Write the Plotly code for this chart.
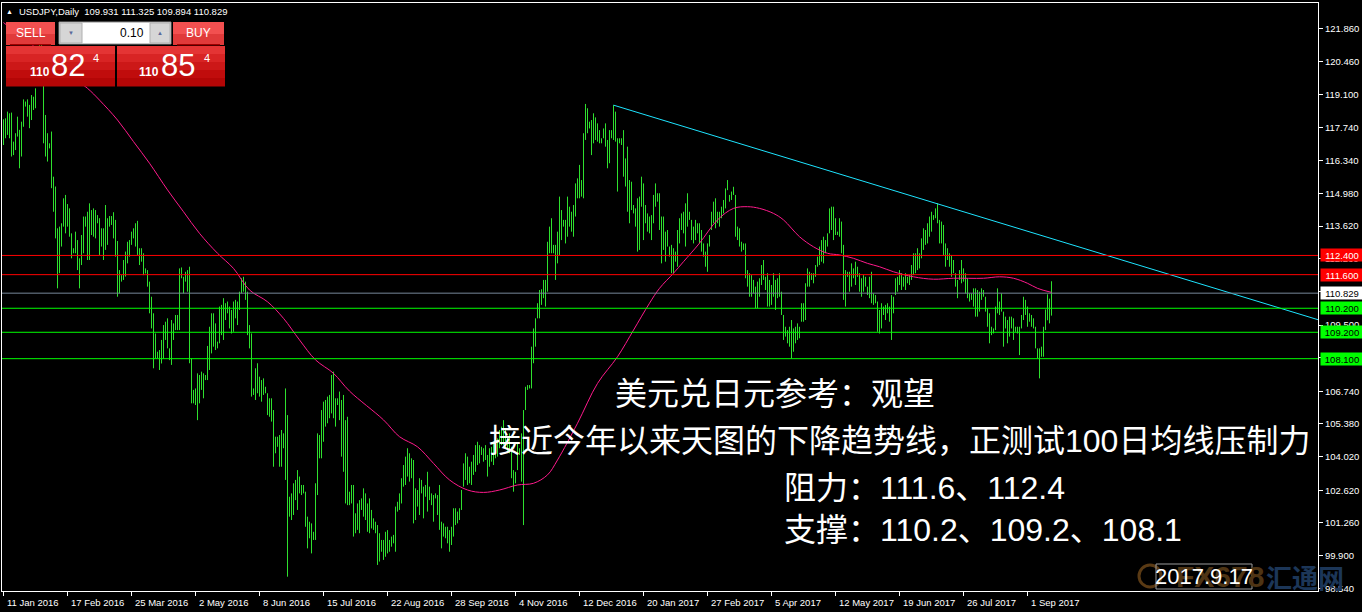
import plotly.graph_objects as go

# ---------------- DATA ----------------
HIGH = [
    118.07, 118.11, 118.39, 118.32, 118.35, 117.14, 117.49, 118.18, 117.63, 117.97,
    118.90, 118.81, 118.90, 118.67, 119.08, 119.01, 119.36, 120.90, 121.69, 121.20,
    119.90, 118.25, 117.49, 117.07, 117.56, 115.68, 115.27, 113.53, 113.60, 113.74,
    114.78, 114.92, 114.54, 114.36, 113.32, 112.70, 113.39, 113.04, 112.28, 113.25,
    114.02, 114.02, 114.22, 114.57, 114.29, 114.36, 114.29, 114.08, 113.95, 113.53,
    113.53, 114.50, 113.95, 114.04, 114.04, 114.20, 113.88, 113.00, 111.79, 111.58,
    112.21, 112.56, 112.97, 113.04, 113.39, 113.53, 113.74, 113.84, 112.70, 112.70,
    112.49, 111.86, 111.79, 111.31, 110.68, 109.99, 109.15, 108.39, 108.46, 108.88,
    109.50, 109.64, 109.78, 108.53, 109.71, 109.57, 109.92, 109.92, 111.86, 111.90,
    111.51, 111.72, 111.79, 111.93, 108.11, 106.80, 106.86, 107.49, 107.42, 107.56,
    107.49, 107.42, 108.63, 109.43, 109.99, 109.99, 109.57, 108.81, 110.27, 110.34,
    110.62, 110.41, 110.48, 110.27, 110.13, 110.48, 110.55, 110.48, 110.89, 111.45,
    111.51, 111.31, 110.89, 109.50, 109.15, 106.86, 107.70, 107.91, 107.35, 107.21,
    107.28, 106.93, 106.66, 106.45, 106.45, 105.96, 104.85, 104.85, 104.92, 105.13,
    104.99, 106.86, 105.75, 102.35, 102.49, 102.91, 103.05, 103.46, 103.19, 102.84,
    102.84, 102.56, 101.52, 101.31, 101.24, 100.89, 102.91, 104.99, 104.92, 105.96,
    106.31, 106.38, 106.52, 106.59, 107.42, 107.56, 106.45, 106.45, 106.73, 106.38,
    106.59, 105.54, 105.68, 102.56, 102.84, 102.84, 101.66, 102.07, 102.21, 102.28,
    102.70, 102.49, 102.07, 102.28, 101.80, 101.45, 101.31, 101.17, 100.83, 100.55,
    100.55, 100.89, 100.96, 100.55, 100.69, 100.76, 101.94, 102.14, 102.49, 103.12,
    103.67, 104.02, 104.37, 104.16, 103.95, 103.88, 102.70, 102.63, 103.12, 103.05,
    102.77, 102.84, 103.39, 102.77, 102.49, 102.42, 102.49, 102.42, 102.84, 101.31,
    101.24, 101.10, 101.10, 100.96, 101.10, 101.87, 101.87, 101.73, 101.87, 102.63,
    103.74, 104.16, 104.02, 103.60, 103.81, 104.09, 104.50, 104.64, 104.50, 104.43,
    104.37, 104.50, 104.09, 104.37, 104.43, 104.64, 104.57, 104.78, 105.13, 105.27,
    105.54, 105.13, 104.85, 104.99, 104.43, 103.46, 103.39, 104.57, 104.37, 104.99,
    105.96, 106.93, 107.00, 107.00, 108.60, 109.36, 109.78, 110.41, 110.96, 110.99,
    111.38, 111.38, 112.97, 113.60, 113.95, 112.84, 112.84, 113.39, 114.85, 114.29,
    113.88, 113.88, 114.85, 114.43, 114.22, 114.50, 115.40, 115.61, 116.17, 115.54,
    117.49, 118.71, 118.53, 117.97, 118.04, 118.32, 118.15, 117.90, 117.62, 117.28,
    117.69, 117.90, 117.21, 117.62, 117.62, 118.66, 118.39, 117.28, 117.28, 117.28,
    117.62, 116.44, 116.93, 115.54, 115.47, 114.50, 114.36, 114.78, 114.85, 115.68,
    115.40, 114.50, 114.15, 114.02, 114.08, 114.92, 115.40, 114.99, 114.99, 114.02,
    114.02, 113.39, 113.46, 112.77, 112.84, 112.70, 112.56, 113.46, 113.95, 114.15,
    114.22, 114.57, 114.99, 114.22, 113.88, 113.60, 113.88, 113.74, 113.74,
    113.46, 112.90, 112.56, 112.90, 113.25, 114.22, 114.64, 114.78, 114.22, 114.22,
    114.43, 114.71, 115.19, 115.54, 114.92, 115.06, 115.26, 114.92, 113.60, 113.53,
    112.97, 112.90, 112.90, 111.79, 111.66, 111.58, 111.38, 111.10, 111.31, 111.45,
    112.00, 112.21, 111.51, 111.66, 111.38, 111.17, 111.66, 111.38, 111.45, 111.66,
    110.89, 109.92, 109.43, 109.29, 109.43, 109.71, 109.36, 109.43, 109.57, 109.43,
    110.41, 110.41, 111.24, 111.86, 111.72, 111.66, 111.66, 112.00, 112.35, 112.77,
    113.04, 113.18, 113.04, 113.32, 114.36, 114.43, 114.43, 113.95, 113.39, 113.95,
    113.81, 112.84, 111.79, 111.72, 111.72, 112.07, 111.86, 112.14, 111.93, 111.66,
    111.45, 111.58, 111.51, 111.10, 111.51, 111.72, 110.82, 110.75, 110.48, 110.13,
    110.41, 110.27, 110.34, 110.41, 110.27, 110.75, 110.68, 111.45, 111.51, 111.79,
    111.66, 111.51, 111.66, 111.51, 111.58, 112.00, 112.49, 112.49, 112.70, 112.49,
    113.11, 113.53, 113.46, 113.74, 114.02, 114.22, 114.08, 114.36, 114.57, 113.88,
    113.81, 113.67, 112.90, 112.70, 112.49, 112.42, 112.21, 111.66, 111.38, 111.79,
    112.21, 111.86, 111.66, 111.45, 110.82, 110.82, 111.03, 111.03, 110.96, 110.89,
    111.03, 110.96, 110.68, 110.20, 109.99, 109.43, 109.36, 110.27, 111.03, 110.48,
    110.82, 110.06, 109.85, 109.71, 109.85, 109.85, 109.78, 109.43, 109.43, 109.43,
    109.92, 110.68, 110.55, 110.27, 109.99, 109.92, 109.78, 109.43, 108.53, 108.53,
    108.60, 109.43, 110.15, 110.78, 110.60, 111.325,
]
LOW = [
    117.00, 117.28, 117.42, 117.28, 116.52, 116.58, 116.79, 117.35, 116.03, 116.52,
    117.76, 118.60, 118.18, 117.70, 118.04, 118.46, 118.53, 119.60, 120.20, 119.70,
    117.07, 116.52, 116.31, 116.86, 115.20, 114.22, 113.11, 111.03, 111.66, 112.77,
    113.60, 113.32, 113.60, 113.18, 112.28, 112.49, 112.49, 111.79, 111.03, 112.00,
    112.49, 113.60, 112.21, 112.21, 113.25, 113.18, 113.11, 113.74, 112.42, 112.77,
    112.21, 112.63, 112.84, 113.60, 113.67, 113.11, 112.35, 110.68, 110.82, 111.31,
    111.38, 111.52, 112.07, 112.35, 112.84, 113.11, 112.77, 112.42, 112.00, 112.14,
    111.58, 111.65, 111.10, 109.99, 109.36, 107.70, 108.11, 108.11, 107.63, 107.90,
    108.11, 108.88, 108.53, 108.04, 107.84, 108.88, 109.29, 109.29, 109.29, 111.45,
    110.82, 111.31, 110.89, 107.91, 106.24, 106.24, 106.17, 105.54, 106.24, 106.80,
    106.45, 107.21, 107.21, 107.63, 108.32, 108.60, 108.46, 108.53, 108.74, 109.08,
    108.88, 109.71, 109.99, 109.36, 109.15, 109.22, 109.78, 109.50, 110.13, 110.82,
    110.89, 110.55, 109.08, 108.53, 106.52, 106.59, 106.38, 106.66, 106.52, 106.31,
    106.59, 106.66, 105.75, 105.68, 105.48, 103.60, 104.16, 104.43, 103.60, 103.60,
    104.37, 103.05, 99.02, 101.52, 101.38, 101.59, 102.21, 101.80, 102.49, 102.42,
    102.49, 101.10, 100.20, 100.62, 99.99, 100.55, 100.55, 102.42, 103.95, 103.95,
    104.64, 105.27, 105.41, 105.62, 105.82, 105.62, 105.27, 106.17, 105.54, 104.02,
    103.39, 102.07, 102.00, 102.00, 102.07, 100.69, 100.83, 100.97, 100.83, 101.80,
    101.52, 101.38, 100.89, 100.83, 101.03, 100.97, 100.83, 99.51, 99.65, 100.06,
    99.72, 99.85, 99.99, 100.06, 100.27, 100.41, 100.06, 101.73, 101.80, 102.07,
    102.77, 102.84, 103.19, 102.98, 103.12, 101.24, 101.38, 101.94, 101.59, 102.49,
    101.45, 102.35, 101.73, 102.21, 102.00, 101.31, 102.28, 101.59, 100.97, 100.20,
    100.69, 100.62, 100.41, 100.06, 100.34, 100.69, 101.17, 101.24, 101.38, 101.80,
    102.77, 103.05, 102.84, 102.91, 102.84, 103.26, 103.39, 103.67, 103.74, 104.09,
    103.81, 103.88, 103.19, 103.60, 103.81, 103.67, 103.95, 104.02, 104.37, 104.50,
    104.50, 104.37, 104.23, 104.16, 103.12, 102.56, 102.91, 103.46, 104.09, 102.98,
    101.17, 105.96, 106.80, 106.86, 106.86, 107.91, 108.60, 109.78, 109.78, 110.34,
    110.62, 110.27, 110.89, 112.49, 112.49, 112.49, 111.38, 112.07, 112.42, 113.04,
    113.60, 112.90, 113.18, 113.60, 113.39, 113.18, 114.02, 114.78, 114.78, 114.85,
    114.78, 117.21, 117.49, 117.69, 116.58, 117.07, 117.21, 117.14, 117.07, 117.07,
    117.28, 116.93, 116.03, 116.24, 117.28, 117.21, 117.14, 115.06, 117.07, 117.00,
    115.68, 115.27, 114.22, 113.74, 114.29, 114.15, 113.60, 112.56, 112.63, 114.43,
    113.04, 113.74, 113.39, 113.32, 113.04, 113.74, 114.43, 114.64, 113.46, 112.07,
    112.63, 112.14, 112.77, 112.35, 111.66, 111.66, 112.14, 111.93, 112.90, 113.46,
    113.32, 112.77, 113.60, 113.88, 113.04, 112.90, 113.04, 113.32, 112.90,
    112.56, 112.35, 111.93, 111.72, 112.77, 113.46, 113.74, 113.53, 113.74, 113.60,
    113.95, 114.15, 114.36, 115.12, 114.64, 114.71, 114.92, 113.18, 113.04, 112.77,
    112.56, 112.63, 111.45, 111.10, 110.68, 110.68, 110.82, 110.20, 110.20, 110.68,
    111.17, 111.38, 110.96, 110.27, 110.27, 110.34, 110.68, 110.13, 110.62, 110.68,
    109.92, 108.88, 109.02, 108.74, 108.60, 108.11, 108.39, 108.74, 108.88, 108.95,
    109.64, 109.64, 109.71, 111.10, 111.10, 111.38, 111.24, 111.51, 111.93, 112.00,
    112.14, 112.07, 112.49, 112.77, 113.32, 113.46, 113.04, 113.25, 113.25, 113.18,
    112.49, 110.55, 110.27, 111.51, 110.89, 111.10, 111.45, 111.17, 111.51, 110.89,
    110.68, 110.89, 111.10, 110.75, 110.62, 110.41, 110.34, 110.41, 109.22, 109.15,
    109.36, 109.92, 109.71, 109.99, 109.64, 108.88, 109.99, 110.75, 110.89, 111.17,
    110.96, 111.10, 110.96, 111.24, 111.17, 111.38, 111.58, 111.66, 111.79, 111.86,
    112.28, 112.63, 112.84, 112.90, 113.18, 113.39, 113.88, 113.95, 113.74, 112.90,
    112.90, 112.42, 111.93, 112.21, 111.93, 111.51, 111.66, 111.10, 110.62, 111.38,
    111.24, 111.31, 110.82, 110.62, 110.48, 110.55, 110.27, 109.85, 109.85, 110.06,
    110.55, 110.68, 110.06, 109.43, 108.74, 109.08, 109.15, 109.29, 109.99, 109.92,
    110.06, 108.60, 109.36, 108.74, 109.02, 109.36, 108.88, 109.22, 109.15, 108.25,
    109.36, 109.71, 109.92, 109.43, 109.64, 109.43, 109.36, 108.53, 108.11, 107.28,
    108.18, 108.18, 109.29, 109.70, 109.57, 109.894,
]

# 100-day moving average (bar index, price)
MA_IDX = [0, 10, 20, 30, 42, 48, 57, 65, 73, 82, 90, 98, 107, 115, 123, 132, 140, 148,
          156, 165, 173, 190, 198, 207, 215, 223, 232, 240, 248, 257, 265, 272, 277, 287,
          297, 307, 315, 323, 328, 335, 340, 348, 357, 365, 372, 378, 385, 390, 398, 405,
          412, 418, 425, 432, 438, 445, 455, 465, 475, 490, 498, 505, 512, 517, 524]
MA_VAL = [122.10, 121.45, 120.80, 120.10, 119.36, 118.87, 118.04, 117.14, 116.24, 115.13,
          114.22, 113.32, 112.49, 111.86, 110.96, 110.47, 109.78, 108.88, 108.05, 107.49,
          106.75, 105.55, 104.85, 104.43, 103.74, 103.05, 102.63, 102.53, 102.63, 102.84,
          102.91, 103.26, 103.88, 105.41, 107.07, 108.18, 109.29, 110.41, 111.03, 111.66,
          112.14, 112.91, 113.88, 114.36, 114.43, 114.36, 114.15, 113.88, 113.18, 112.76,
          112.49, 112.42, 112.28, 112.07, 111.93, 111.72, 111.51, 111.41, 111.45, 111.45,
          111.51, 111.45, 111.24, 111.03, 110.86]

# Trend line anchor points (bar index, price)
TREND_IDX = [305, 467]
TREND_VAL = [118.66, 114.55]

# Horizontal levels
LEVELS = [112.4, 111.6, 110.829, 110.2, 109.2, 108.1]
LEVEL_TEXT = ["112.400", "111.600", "110.829", "110.200", "109.200", "108.100"]

PRICE_TICKS = [121.86, 120.46, 119.10, 117.74, 116.34, 114.98, 113.62, 112.26, 110.90,
               109.50, 108.14, 106.74, 105.38, 104.02, 102.62, 101.26, 99.90, 98.54]

DATE_IDX = [0, 32, 64, 96, 128, 160, 192, 224, 256, 288, 320, 352, 384, 416, 448, 480, 512]
DATE_LABELS = ["11 Jan 2016", "17 Feb 2016", "25 Mar 2016", "2 May 2016", "8 Jun 2016",
               "15 Jul 2016", "22 Aug 2016", "28 Sep 2016", "4 Nov 2016", "12 Dec 2016",
               "20 Jan 2017", "27 Feb 2017", "5 Apr 2017", "12 May 2017", "19 Jun 2017",
               "26 Jul 2017", "1 Sep 2017"]

HEADER = "USDJPY,Daily  109.931 111.325 109.894 110.829"
LOTS = "0.10"
BID = ("110", "82", "4")
ASK = ("110", "85", "4")

TEXT_LINES = ["美元兑日元参考：观望",
              "接近今年以来天图的下降趋势线，正测试100日均线压制力",
              "阻力：111.6、112.4",
              "支撑：110.2、109.2、108.1"]
DATE_STAMP = "2017.9.17"

# ---------------- STYLE / LAYOUT ----------------
W, H = 1362, 612
PL, PR, PT, PB = 2, 1318, 3, 591
X_RANGE = [-0.75, 657.25]
Y_RANGE = [98.424, 122.914]

BAR_COLOR = "#2ee02e"
MA_COLOR = "#ff1a8c"
TREND_COLOR = "#1ee4ff"
LEVEL_LINE_COLORS = ["#ff0000", "#ff0000", "#778899", "#00ff00", "#00ff00", "#00ff00"]
LEVEL_BG = ["#ff0000", "#ff0000", "#ffffff", "#00ff00", "#00ff00", "#00ff00"]
LEVEL_FG = ["#ffffff", "#ffffff", "#000000", "#000000", "#000000", "#000000"]
SMALL_FONT = "Liberation Sans, Arial, sans-serif"
CJK_FONT = "Liberation Sans, Noto Sans CJK SC, sans-serif"


def px(x):
    return (x - PL) / (PR - PL)


def py(y):
    return (PB - y) / (PB - PT)


fig = go.Figure()

# OHLC bars as high-low lines
bx, by = [], []
for i, (h, l) in enumerate(zip(HIGH, LOW)):
    bx += [i, i, None]
    by += [l, h, None]
fig.add_trace(go.Scatter(x=bx, y=by, mode="lines", line=dict(color=BAR_COLOR, width=1),
                         hoverinfo="skip", showlegend=False))

# moving average
fig.add_trace(go.Scatter(x=MA_IDX, y=MA_VAL, mode="lines", line=dict(color=MA_COLOR, width=1),
                         hoverinfo="skip", showlegend=False, line_shape="spline"))

# trend line (ray extended to the right edge)
slope = (TREND_VAL[1] - TREND_VAL[0]) / (TREND_IDX[1] - TREND_IDX[0])
x_end = X_RANGE[1]
y_end = TREND_VAL[0] + slope * (x_end - TREND_IDX[0])
fig.add_trace(go.Scatter(x=[TREND_IDX[0], x_end], y=[TREND_VAL[0], y_end], mode="lines",
                         line=dict(color=TREND_COLOR, width=1), hoverinfo="skip",
                         showlegend=False))

shapes = []
annotations = []

# horizontal levels
for lv, col in zip(LEVELS, LEVEL_LINE_COLORS):
    shapes.append(dict(type="line", xref="paper", yref="y", x0=0, x1=1, y0=lv, y1=lv,
                       line=dict(color=col, width=1), layer="above"))

# watermark (drawn first so other text lies above)
shapes.append(dict(type="circle", xref="paper", yref="paper", x0=px(1139), x1=px(1161),
                   y0=py(587), y1=py(565), line=dict(color="#5a3a14", width=3),
                   fillcolor="rgba(0,0,0,0)", layer="above"))
annotations.append(dict(text="<b>FX678</b>", xref="paper", yref="paper", x=px(1220), y=py(576),
                        showarrow=False, font=dict(family=SMALL_FONT, size=30, color="#4e3414"),
                        xanchor="center", yanchor="middle"))
annotations.append(dict(text="<b>汇通网</b>", xref="paper", yref="paper", x=px(1305), y=py(576),
                        showarrow=False, font=dict(family="Noto Sans CJK SC", size=26, color="#1c3658"),
                        xanchor="center", yanchor="middle"))

# level labels on the price axis
for lv, txt, bg, fg in zip(LEVELS, LEVEL_TEXT, LEVEL_BG, LEVEL_FG):
    annotations.append(dict(text=txt, xref="paper", yref="y", x=px(1320), y=lv,
                            xanchor="left", yanchor="middle", showarrow=False,
                            bgcolor=bg, width=40, height=10, borderpad=1,
                            font=dict(family=SMALL_FONT, size=9.5, color=fg)))

# date labels
for idx, lab in zip(DATE_IDX, DATE_LABELS):
    annotations.append(dict(text=lab, xref="x", yref="paper", x=idx + 0.5, y=py(595),
                            xanchor="left", yanchor="top", showarrow=False,
                            font=dict(family=SMALL_FONT, size=9.5, color="#ffffff")))

# header
annotations.append(dict(text="▲", xref="paper", yref="paper", x=px(9.5), y=py(11),
                        xanchor="center", yanchor="middle", showarrow=False,
                        font=dict(family=SMALL_FONT, size=7, color="#ffffff")))
annotations.append(dict(text=HEADER, xref="paper", yref="paper", x=px(17), y=py(11),
                        xanchor="left", yanchor="middle", showarrow=False,
                        font=dict(family=SMALL_FONT, size=9.5, color="#ffffff")))


# trading panel
def rect(x0, y0, x1, y1, fill, line=None):
    shapes.append(dict(type="rect", xref="paper", yref="paper", x0=px(x0), x1=px(x1),
                       y0=py(y1), y1=py(y0), fillcolor=fill,
                       line=dict(color=line or fill, width=1 if line else 0), layer="above"))


for (x0, x1) in [(6, 55), (173, 224)]:
    rect(x0, 22, x1, 34, "#f25050")
    rect(x0, 34, x1, 45, "#e03a3a")
    rect(x0 + 4, 44, x1 - 4, 45.5, "#a00000")
for (x0, x1) in [(6, 115), (117, 225)]:
    bands = ["#e43434", "#d82424", "#cc1818", "#c00c0c", "#b40606"]
    hgt = 40 / len(bands)
    for k, c in enumerate(bands):
        rect(x0, 46 + k * hgt, x1, 46 + (k + 1) * hgt + 0.5, c)
rect(59, 22, 171, 44, "#ffffff", "#8c8c8c")
rect(60, 23, 82, 43, "#d6d6d6", "#b0b0b0")
rect(150, 23, 170, 43, "#d6d6d6", "#b0b0b0")

panel_txt = [
    ("SELL", 30.5, 33.5, 12, "#ffffff", "center", False),
    ("BUY", 198.5, 33.5, 12, "#ffffff", "center", False),
    (LOTS, 146, 33, 12, "#000000", "right", False),
    ("▼", 71, 33, 6, "#5a6a9a", "center", False),
    ("▲", 160, 33, 6, "#5a6a9a", "center", False),
    (BID[0], 39.5, 71.5, 12, "#ffffff", "center", True),
    (BID[1], 67.5, 65.5, 31, "#ffffff", "center", False),
    (BID[2], 96, 57.5, 11, "#ffffff", "center", False),
    (ASK[0], 148.5, 71.5, 12, "#ffffff", "center", True),
    (ASK[1], 178, 65.5, 31, "#ffffff", "center", False),
    (ASK[2], 206.5, 57.5, 11, "#ffffff", "center", False),
]
for t, x, y, s, c, anc, bold in panel_txt:
    annotations.append(dict(text=f"<b>{t}</b>" if bold else t, xref="paper", yref="paper",
                            x=px(x), y=py(y), xanchor=anc, yanchor="middle", showarrow=False,
                            font=dict(family=SMALL_FONT, size=s, color=c)))

# Chinese commentary
text_pos = [(613, 394), (487, 441), (782, 488), (782, 530)]
for t, (x, y) in zip(TEXT_LINES, text_pos):
    annotations.append(dict(text=t, xref="paper", yref="paper", x=px(x), y=py(y),
                            xanchor="left", yanchor="middle", showarrow=False,
                            font=dict(family=CJK_FONT, size=32, color="#ffffff")))

# date stamp box
shapes.append(dict(type="rect", xref="paper", yref="paper", x0=px(1156), x1=px(1252),
                   y0=py(589), y1=py(564), line=dict(color="#9a9a9a", width=1),
                   fillcolor="rgba(0,0,0,0)", layer="above"))
annotations.append(dict(text=DATE_STAMP, xref="paper", yref="paper", x=px(1204), y=py(576),
                        xanchor="center", yanchor="middle", showarrow=False,
                        font=dict(family=SMALL_FONT, size=22, color="#ffffff")))

fig.update_layout(
    width=W, height=H,
    margin=dict(l=PL, r=W - PR, t=PT, b=H - PB, pad=0),
    paper_bgcolor="#000000", plot_bgcolor="#000000",
    showlegend=False,
    shapes=shapes, annotations=annotations,
    xaxis=dict(range=X_RANGE, showgrid=False, zeroline=False, showline=True, mirror=True,
               linecolor="#ffffff", linewidth=1, tickvals=DATE_IDX, ticks="outside",
               ticklen=4, tickcolor="#ffffff", showticklabels=False, fixedrange=True),
    yaxis=dict(range=Y_RANGE, side="right", showgrid=False, zeroline=False, showline=True,
               mirror=True, linecolor="#ffffff", linewidth=1, tickvals=PRICE_TICKS,
               ticktext=[f"{v:.3f}" for v in PRICE_TICKS], ticks="outside", ticklen=4,
               tickcolor="#ffffff", tickfont=dict(family=SMALL_FONT, size=9.5, color="#ffffff"),
               fixedrange=True),
)

fig.write_html(
    "out.html",
    config={"displayModeBar": False, "staticPlot": True},
    post_script="document.body.style.margin='0px';document.body.style.background='#000';"
                "document.body.style.overflow='hidden';",
)
